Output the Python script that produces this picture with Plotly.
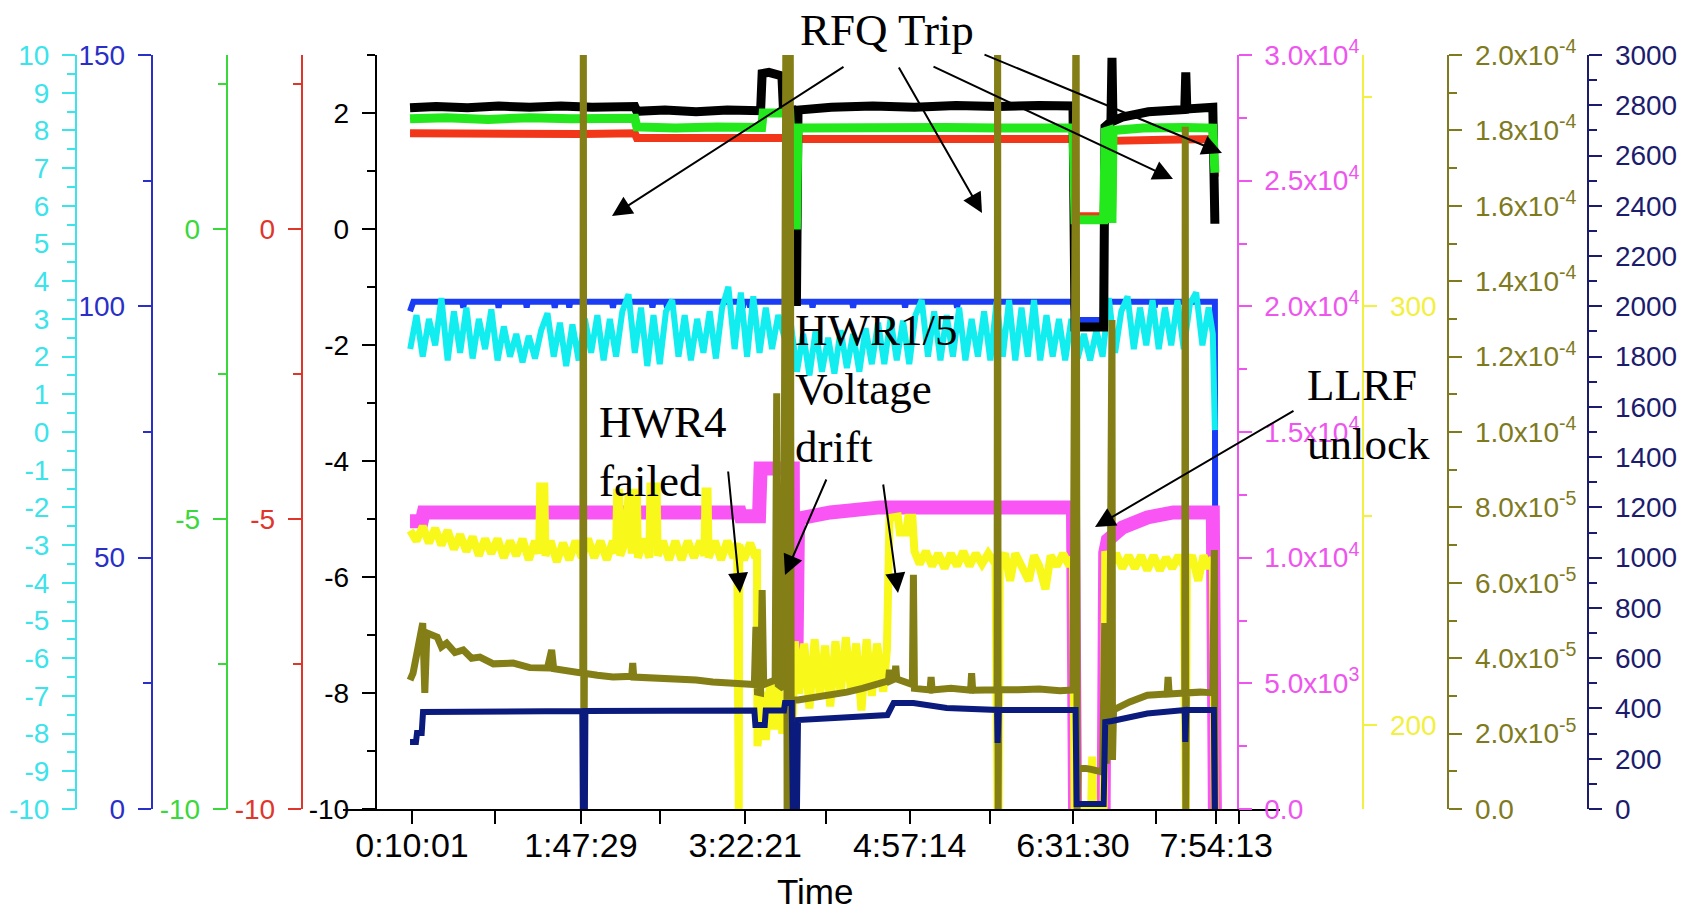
import plotly.graph_objects as go

# ---------------- data ----------------
# x values: elapsed clock time in hours
tick_hours = [0.16694, 1.79139, 3.37250, 4.95389, 6.52500, 7.90361]
tick_labels = ["0:10:01", "1:47:29", "3:22:21", "4:57:14", "6:31:30", "7:54:13"]
minor_hours = [0.965, 2.552, 4.149, 5.727, 7.324, 8.122]
x_title = "Time"

black_t = [0.148, 0.40, 0.70, 1.00, 1.30, 1.60, 1.90, 2.20, 2.31, 2.33, 2.60, 2.90, 3.20, 3.52, 3.535,
           3.60, 3.70, 3.725, 3.74, 3.82, 3.845, 3.865, 3.88, 4.20, 4.60, 5.00, 5.40, 5.80, 6.20, 6.525,
           6.545, 6.82, 6.833, 6.89, 6.90, 6.91, 7.00, 7.25, 7.60, 7.61, 7.62, 7.87, 7.89]
black_v = [2.09, 2.11, 2.09, 2.12, 2.10, 2.12, 2.10, 2.12, 2.11, 2.03, 2.05, 2.02, 2.05, 2.04, 2.68,
           2.70, 2.66, 2.64, 2.05, 2.05, -1.25, -1.25, 2.05, 2.10, 2.12, 2.10, 2.13, 2.11, 2.13, 2.12,
           -1.69, -1.69, 1.76, 1.85, 2.95, 1.86, 1.93, 2.02, 2.06, 2.70, 2.07, 2.10, 0.09]

green_t = [0.148, 0.50, 0.90, 1.30, 1.70, 2.10, 2.31, 2.33, 2.70, 3.10, 3.53, 3.545, 3.80, 3.845, 3.865,
           3.88, 4.30, 4.80, 5.30, 5.80, 6.20, 6.525, 6.545, 6.82, 6.835, 6.87, 6.88, 6.90, 6.91, 7.20,
           7.60, 7.87, 7.89]
green_v = [1.90, 1.92, 1.89, 1.92, 1.90, 1.92, 1.91, 1.76, 1.74, 1.76, 1.75, 2.00, 2.00, 0.07, 0.07,
           1.74, 1.75, 1.73, 1.75, 1.74, 1.75, 1.74, 0.16, 0.16, 1.68, 1.70, 0.18, 0.18, 1.70, 1.74,
           1.75, 1.74, 0.97]

red_t = [0.148, 0.60, 1.20, 1.80, 2.31, 2.33, 3.00, 3.82, 3.845, 3.865, 3.88, 4.60, 5.60, 6.525, 6.545,
         6.82, 6.835, 6.87, 6.88, 6.90, 6.91, 7.40, 7.87, 7.89]
red_v = [1.65, 1.64, 1.66, 1.64, 1.65, 1.57, 1.57, 1.57, 0.03, 0.03, 1.55, 1.54, 1.55, 1.55, 0.22,
         0.22, 1.52, 1.52, 0.20, 0.20, 1.52, 1.54, 1.55, 0.90]

blue_t = [0.148, 0.18, 0.65, 0.66, 0.67, 0.99, 1.00, 1.01, 1.26, 1.27, 1.28, 1.53, 1.54, 1.55, 1.67,
          1.68, 1.69, 2.09, 2.10, 2.11, 2.47, 2.48, 2.49, 2.61, 2.62, 2.63, 3.34, 3.35, 3.36, 3.41,
          3.42, 3.43, 3.90, 4.01, 4.02, 4.03, 4.40, 4.41, 4.42, 4.90, 4.91, 4.92, 5.40, 5.41, 5.42,
          6.525, 6.545, 6.82, 6.835, 7.30, 7.31, 7.32, 7.89, 7.895]
blue_v = [99.0, 100.9, 100.9, 99.7, 100.9, 100.9, 99.7, 100.9, 100.9, 99.8, 100.9, 100.9, 99.7, 100.9, 100.9,
          99.8, 100.9, 100.9, 99.7, 100.9, 100.9, 99.8, 100.9, 100.9, 99.7, 100.9, 100.9, 99.7, 100.9, 100.9,
          99.8, 100.9, 100.9, 100.9, 99.8, 100.9, 100.9, 99.7, 100.9, 100.9, 99.8, 100.9, 100.9, 99.7, 100.9,
          100.9, 97.3, 97.3, 100.9, 100.9, 99.8, 100.9, 100.9, 0.0]

cyan_t = [0.15, 0.21, 0.27, 0.33, 0.39, 0.45, 0.51, 0.57, 0.63, 0.69, 0.75, 0.81, 0.87, 0.93, 0.99,
          1.05, 1.11, 1.17, 1.23, 1.29, 1.35, 1.41, 1.47, 1.53, 1.59, 1.65, 1.71, 1.77, 1.83, 1.89,
          1.95, 2.01, 2.07, 2.13, 2.19, 2.25, 2.31, 2.37, 2.43, 2.49, 2.55, 2.61, 2.67, 2.73, 2.79,
          2.85, 2.91, 2.97, 3.03, 3.09, 3.15, 3.21, 3.27, 3.33, 3.39, 3.45, 3.51, 3.57, 3.63, 3.69,
          3.75, 3.81, 3.87, 3.93, 3.99, 4.05, 4.11, 4.17, 4.23, 4.29, 4.35, 4.41, 4.47, 4.53, 4.59,
          4.65, 4.71, 4.77, 4.83, 4.89, 4.95, 5.01, 5.07, 5.13, 5.19, 5.25, 5.31, 5.37, 5.43, 5.49,
          5.55, 5.61, 5.67, 5.73, 5.79, 5.85, 5.91, 5.97, 6.03, 6.09, 6.15, 6.21, 6.27, 6.33, 6.39,
          6.45, 6.51, 6.57, 6.63, 6.69, 6.75, 6.81, 6.87, 6.93, 6.99, 7.05, 7.11, 7.17, 7.23, 7.29,
          7.35, 7.41, 7.47, 7.53, 7.59, 7.65, 7.71, 7.77, 7.83, 7.87, 7.89]
cyan_v = [2.2, 3.1, 2.0, 3.0, 2.3, 3.55, 1.9, 3.2, 2.1, 3.3,
          1.95, 3.0, 2.2, 3.25, 1.9, 2.8, 2.0, 2.6, 1.85, 2.55,
          1.95, 2.7, 3.15, 2.0, 2.9, 1.75, 2.85, 1.9, 3.0, 2.1,
          3.1, 1.9, 3.0, 2.0, 3.2, 3.65, 2.1, 3.3, 1.75, 3.1,
          1.8, 3.2, 3.5, 2.0, 3.1, 1.9, 3.0, 2.1, 3.2, 1.95,
          3.3, 3.85, 2.2, 3.7, 2.0, 3.6, 2.1, 3.3, 2.2, 3.1,
          2.5, 2.9, 1.6, 2.6, 1.5, 2.7, 1.6, 2.5, 1.55, 2.7,
          1.7, 2.6, 1.6, 2.75, 1.8, 2.9, 1.8, 3.0, 1.9, 2.95,
          1.8, 3.1, 3.5, 2.0, 3.2, 1.9, 3.1, 2.0, 3.3, 1.9,
          3.0, 2.0, 3.2, 1.9, 3.45, 2.0, 3.5, 1.9, 3.3, 2.0,
          3.5, 1.9, 3.1, 2.0, 3.0, 1.9, 3.0, 1.95, 2.6, 1.9,
          2.7, 2.0, 3.55, 2.1, 3.2, 3.6, 2.2, 3.3, 2.3, 3.5,
          2.2, 3.3, 2.3, 3.5, 2.2, 3.4, 3.7, 2.3, 3.3, 2.6,
          0.05]

magenta_t = [0.148, 0.26, 0.28, 0.8, 1.4, 2.0, 2.6, 3.0, 3.32, 3.33, 3.505, 3.52, 3.78, 3.83, 3.835,
             3.865, 3.88, 4.19, 4.67, 5.3, 6.0, 6.525, 6.545, 6.82, 6.835, 6.86, 7.0, 7.24, 7.49, 7.87,
             7.89]
magenta_v = [11450, 11450, 11800, 11780, 11820, 11790, 11800, 11780, 11800, 11650, 11650, 13550, 13550, 13550, 6050,
             6050, 11550, 11800, 12000, 12000, 11980, 12000, 0, 0, 10200, 10700, 11200, 11600, 11800, 11800,
             0]

yellow_t = [0.15, 0.21, 0.27, 0.33, 0.39, 0.45, 0.51, 0.57, 0.63, 0.69,
            0.75, 0.81, 0.87, 0.93, 0.99, 1.05, 1.11, 1.17, 1.23, 1.29,
            1.35, 1.39, 1.40, 1.44, 1.45, 1.50, 1.56, 1.62, 1.68, 1.74,
            1.80, 1.86, 1.92, 1.98, 2.04, 2.10, 2.13, 2.14, 2.16, 2.17,
            2.22, 2.25, 2.28, 2.29, 2.33, 2.34, 2.40, 2.45, 2.46, 2.52,
            2.53, 2.58, 2.64, 2.70, 2.76, 2.82, 2.88, 2.94, 2.98, 2.99,
            3.01, 3.02, 3.08, 3.14, 3.20, 3.26, 3.295, 3.30, 3.31, 3.315,
            3.36, 3.42, 3.47, 3.485, 3.49, 3.53, 3.57, 3.61, 3.65, 3.69,
            3.73, 3.77, 3.81, 3.83, 3.85, 3.89, 3.94, 3.99, 4.04, 4.09,
            4.14, 4.19, 4.24, 4.29, 4.34, 4.39, 4.44, 4.49, 4.54, 4.59,
            4.64, 4.70, 4.735, 4.76, 4.84, 4.86, 4.92, 4.94, 4.98, 5.00,
            5.05, 5.11, 5.17, 5.23, 5.29, 5.35, 5.41, 5.47, 5.53, 5.59,
            5.65, 5.71, 5.78, 5.80, 5.81, 5.82, 5.87, 5.92, 5.97, 6.03,
            6.10, 6.15, 6.20, 6.26, 6.31, 6.37, 6.43, 6.49, 6.525, 6.54,
            6.70, 6.71, 6.72, 6.82, 6.835, 6.88, 6.94, 7.00, 7.06, 7.12,
            7.18, 7.24, 7.30, 7.36, 7.42, 7.48, 7.54, 7.59, 7.60, 7.61,
            7.62, 7.67, 7.73, 7.78, 7.83, 7.87, 7.89]
yellow_v = [246.5, 244.0, 247.5, 243.5, 247.0, 243.0, 246.5, 242.0, 245.5, 241.5,
            245.0, 240.5, 244.5, 241.0, 244.5, 240.0, 244.0, 240.5, 244.5, 239.5,
            244.0, 241.0, 257.0, 257.0, 240.5, 244.0, 239.0, 243.5, 239.5, 244.0,
            240.0, 244.5, 240.0, 244.0, 239.5, 244.0, 241.0, 255.5, 255.5, 240.5,
            244.0, 255.0, 241.0, 255.5, 255.5, 240.0, 244.5, 240.0, 257.0, 257.0,
            240.5, 244.0, 239.5, 244.0, 239.5, 244.0, 240.0, 244.0, 240.5, 255.8,
            255.8, 240.0, 244.0, 239.5, 244.0, 240.0, 243.5, 180.0, 180.0, 243.0,
            239.5, 243.5, 240.0, 242.0, 195.0, 208.0, 196.5, 210.0, 199.0, 211.0,
            198.0, 206.0, 196.0, 203.0, 220.0, 207.5, 219.5, 204.0, 220.5, 207.0,
            219.0, 204.5, 220.0, 207.5, 221.0, 208.0, 219.5, 203.5, 220.5, 207.0,
            219.5, 208.0, 218.0, 249.5, 249.8, 246.0, 246.0, 249.5, 249.5, 241.5,
            238.5, 241.5, 238.0, 241.0, 237.5, 241.0, 238.0, 241.5, 238.0, 241.0,
            238.5, 241.0, 238.5, 180.0, 180.0, 239.0, 241.0, 234.5, 241.0, 238.0,
            234.5, 240.5, 238.0, 232.5, 240.5, 238.0, 241.0, 238.0, 240.0, 180.0,
            180.0, 192.5, 180.0, 180.0, 241.5, 238.0, 241.0, 237.5, 240.5, 237.5,
            240.5, 237.0, 240.5, 237.0, 240.0, 237.5, 240.5, 238.0, 180.0, 180.0,
            238.5, 240.5, 234.5, 240.5, 237.5, 240.0, 180.0]

olive_t = [0.148, 0.177, 0.215, 0.27, 0.29, 0.31, 0.41, 0.45, 0.50, 0.58, 0.66, 0.74, 0.82, 0.95, 1.14,
           1.30, 1.47, 1.51, 1.53, 1.70, 1.78, 1.81, 1.815, 1.82, 1.825, 1.95, 2.10, 2.28, 2.29, 2.30,
           2.43, 2.60, 2.74, 2.90, 3.06, 3.20, 3.39, 3.46, 3.475, 3.49, 3.52, 3.535, 3.55, 3.60, 3.66,
           3.675, 3.69, 3.74, 3.765, 3.775, 3.785, 3.795, 3.805, 3.815, 3.825, 3.88, 4.02, 4.15, 4.35, 4.50,
           4.67, 4.75, 4.76, 4.77, 4.81, 4.82, 4.83, 4.98, 4.99, 5.00, 5.15, 5.16, 5.17, 5.35, 5.54,
           5.55, 5.56, 5.70, 5.795, 5.80, 5.805, 5.81, 6.00, 6.20, 6.40, 6.525, 6.555, 6.565, 6.575, 6.70,
           6.81, 6.83, 6.845, 6.86, 6.875, 6.90, 6.905, 6.915, 7.07, 7.24, 7.43, 7.44, 7.45, 7.55, 7.60,
           7.605, 7.61, 7.615, 7.75, 7.87, 7.885, 7.89]
olive_v = [3.42e-5, 3.60e-5, 4.14e-5, 4.93e-5, 3.08e-5, 4.67e-5, 4.56e-5, 4.30e-5, 4.40e-5, 4.15e-5,
           4.22e-5, 4.00e-5, 4.03e-5, 3.85e-5, 3.87e-5, 3.75e-5, 3.74e-5, 4.22e-5, 3.72e-5, 3.65e-5,
           3.61e-5, 3.60e-5, 2.2e-4, 0.0, 3.60e-5, 3.55e-5, 3.50e-5, 3.52e-5, 3.87e-5, 3.50e-5,
           3.48e-5, 3.50e-5, 3.47e-5, 3.42e-5, 3.37e-5, 3.36e-5, 3.34e-5, 3.30e-5, 4.83e-5, 3.10e-5,
           3.08e-5, 5.81e-5, 3.30e-5, 3.35e-5, 3.42e-5, 1.103e-4, 3.30e-5, 3.20e-5, 2.2e-4, 0.0,
           2.2e-4, 0.0, 2.2e-4, 0.0, 2.89e-5, 2.89e-5, 2.94e-5, 3.00e-5, 3.10e-5, 3.20e-5,
           3.34e-5, 3.40e-5, 3.69e-5, 3.40e-5, 3.45e-5, 3.80e-5, 3.45e-5, 3.30e-5, 6.21e-5, 3.20e-5,
           3.16e-5, 3.50e-5, 3.16e-5, 3.20e-5, 3.15e-5, 3.60e-5, 3.15e-5, 3.18e-5, 3.16e-5, 2.2e-4,
           0.0, 3.16e-5, 3.16e-5, 3.18e-5, 3.14e-5, 3.16e-5, 2.2e-4, 0.0, 1.11e-5, 1.05e-5,
           0.98e-5, 4.93e-5, 1.2e-5, 4.5e-5, 2.0e-5, 1.297e-4, 1.3e-5, 2.63e-5, 2.84e-5, 3.02e-5,
           3.05e-5, 3.50e-5, 3.05e-5, 3.08e-5, 3.08e-5, 1.81e-4, 0.0, 3.08e-5, 3.10e-5, 3.08e-5,
           6.87e-5, 0.0]

navy_t = [0.148, 0.205, 0.215, 0.26, 0.273, 1.00, 1.805, 1.81, 1.83, 1.835, 2.50, 3.46, 3.47, 3.56, 3.57,
          3.745, 3.755, 3.82, 3.83, 3.87, 3.88, 4.20, 4.67, 4.74, 4.80, 4.99, 5.31, 5.795, 5.80, 5.81,
          6.20, 6.55, 6.56, 6.82, 6.835, 6.90, 7.24, 7.55, 7.60, 7.605, 7.615, 7.88, 7.89]
navy_v = [267, 267, 302, 302, 386, 390, 390, 0, 0, 390, 392, 392, 334, 334, 392,
          392, 422, 422, 0, 0, 354, 362, 374, 374, 422, 422, 402, 394, 263, 394,
          394, 394, 20, 20, 346, 350, 380, 394, 394, 267, 394, 394, 0]

# tick labels (plain hyphen minus signs, as in the original)
cyan_ticks = [-10, -9, -8, -7, -6, -5, -4, -3, -2, -1, 0, 1, 2, 3, 4, 5, 6, 7, 8, 9, 10]
cyan_text = ["-10", "-9", "-8", "-7", "-6", "-5", "-4", "-3", "-2", "-1", "0",
             "1", "2", "3", "4", "5", "6", "7", "8", "9", "10"]
black_ticks = [-10, -8, -6, -4, -2, 0, 2]
black_text = ["-10", "-8", "-6", "-4", "-2", "0", "2"]
gr_ticks = [-10, -5, 0]
gr_text = ["-10", "-5", "0"]
magenta_ticks = [0, 5000, 10000, 15000, 20000, 25000, 30000]
magenta_text = ["0.0", "5.0x10<sup>3</sup>", "1.0x10<sup>4</sup>", "1.5x10<sup>4</sup>",
                "2.0x10<sup>4</sup>", "2.5x10<sup>4</sup>", "3.0x10<sup>4</sup>"]
olive_ticks = [0, 2e-5, 4e-5, 6e-5, 8e-5, 1e-4, 1.2e-4, 1.4e-4, 1.6e-4, 1.8e-4, 2e-4]
olive_text = ["0.0", "2.0x10<sup>-5</sup>", "4.0x10<sup>-5</sup>", "6.0x10<sup>-5</sup>",
              "8.0x10<sup>-5</sup>", "1.0x10<sup>-4</sup>", "1.2x10<sup>-4</sup>", "1.4x10<sup>-4</sup>",
              "1.6x10<sup>-4</sup>", "1.8x10<sup>-4</sup>", "2.0x10<sup>-4</sup>"]

# ---------------- layout helpers ----------------
W, H = 1684, 913
PT, PB = 55, 809
XL, XR = 343, 1280


def fx(x):
    return x / W


def fy(y):
    return 1 - y / H


FONT = "Liberation Sans, Arial, sans-serif"
SERIF = "Liberation Serif, Times New Roman, serif"


def yaxis(color, lab, rng, xpos, side, minor_dtick, main=False, **kw):
    d = dict(range=rng, anchor="free", position=fx(xpos), side=side,
             showline=True, linecolor=color, linewidth=2,
             ticks="outside", ticklen=13, tickwidth=2, tickcolor=color,
             tickfont=dict(family=FONT, size=28, color=lab),
             ticklabelstandoff=7, showgrid=False, zeroline=False,
             automargin=False, fixedrange=True,
             minor=dict(ticks="outside", ticklen=8, tickwidth=2, tickcolor=color,
                        dtick=minor_dtick, tick0=0, showgrid=False))
    d.update(kw)
    if main:
        d["domain"] = [fy(PB), fy(PT)]
    else:
        d["overlaying"] = "y"
    return d


fig = go.Figure()


def add(t, v, color, width, axis):
    fig.add_trace(go.Scatter(x=t, y=v, mode="lines", line=dict(color=color, width=width),
                             yaxis=axis, hoverinfo="skip", showlegend=False))


add(blue_t, blue_v, "#1A3CF5", 6, "y")
add(cyan_t, cyan_v, "#12EEF0", 6, "y2")
add(red_t, red_v, "#F2361A", 8, "y3")
add(black_t, black_v, "#000000", 9, "y4")
add(green_t, green_v, "#22E81C", 9, "y5")
add(magenta_t, magenta_v, "#F955F5", 14, "y6")
add(yellow_t, yellow_v, "#F8F81A", 8, "y7")
add(olive_t, olive_v, "#847E17", 7, "y8")
add(navy_t, navy_v, "#0B1B7D", 6, "y9")

layout = dict(
    width=W, height=H, autosize=False, template="none",
    margin=dict(l=0, r=0, t=0, b=0, pad=0),
    paper_bgcolor="white", plot_bgcolor="white", showlegend=False,
    font=dict(family=FONT),
    xaxis=dict(domain=[fx(XL), fx(XR)], range=[-0.4968, 8.5163], anchor="y",
               showline=True, linecolor="black", linewidth=2,
               ticks="outside", ticklen=13, tickwidth=2, tickcolor="black",
               tickmode="array", tickvals=tick_hours, ticktext=tick_labels,
               tickfont=dict(family=FONT, size=34, color="black"),
               ticklabelstandoff=-8,
               minor=dict(tickmode="array", tickvals=minor_hours, ticks="outside",
                          ticklen=13, tickwidth=2, tickcolor="black", showgrid=False),
               showgrid=False, zeroline=False, automargin=False, fixedrange=True),
    yaxis=yaxis("#2A2FC8", "#2A2FC8", [0, 150], 151.7, "left", 25, main=True, dtick=50, tick0=0),
    yaxis2=yaxis("#3CE3EA", "#3CE3EA", [-10, 10], 76, "left", 0.5,
                 tickmode="array", tickvals=cyan_ticks, ticktext=cyan_text),
    yaxis3=yaxis("#E0352B", "#E0352B", [-10, 3], 301.7, "left", 2.5,
                 tickmode="array", tickvals=gr_ticks, ticktext=gr_text),
    yaxis4=yaxis("#000000", "#000000", [-10, 3], 375.7, "left", 1,
                 tickmode="array", tickvals=black_ticks, ticktext=black_text),
    yaxis5=yaxis("#3AD83A", "#3AD83A", [-10, 3], 226.7, "left", 2.5,
                 tickmode="array", tickvals=gr_ticks, ticktext=gr_text),
    yaxis6=yaxis("#EE55EE", "#EE55EE", [0, 30000], 1237.7, "right", 2500,
                 tickmode="array", tickvals=magenta_ticks, ticktext=magenta_text),
    yaxis7=yaxis("#F2F040", "#F2F040", [180, 360], 1363.3, "right", 50, dtick=100, tick0=0),
    yaxis8=yaxis("#7F7A1E", "#7F7A1E", [0, 2e-4], 1448.3, "right", 1e-5,
                 tickmode="array", tickvals=olive_ticks, ticktext=olive_text),
    yaxis9=yaxis("#1C1C6E", "#1C1C6E", [0, 3000], 1588.3, "right", 100, dtick=200, tick0=0),
)
fig.update_layout(**layout)

# x-axis title (kept inside the page)
fig.add_annotation(text=x_title, x=fx(815), y=0, xref="paper", yref="paper",
                   xanchor="center", yanchor="bottom", showarrow=False,
                   font=dict(family=FONT, size=35, color="black"))

# ---------------- annotations ----------------
tfont = dict(family=SERIF, size=45, color="black")
texts = [
    ("RFQ Trip", 887, 29.5, "center"),
    ("HWR1/5<br>Voltage<br>drift", 793, 388.5, "left"),
    ("HWR4<br>failed", 597, 452, "left"),
    ("LLRF<br>unlock", 1305, 414, "left"),
]
for txt, x, y, anc in texts:
    fig.add_annotation(text=txt, x=fx(x), y=fy(y), xref="paper", yref="paper",
                       xanchor=anc, yanchor="middle", align="left", showarrow=False, font=tfont)

# arrows: (tail_x, tail_y, tip_x, tip_y) in page pixels
arrows = [
    (845, 66, 612, 216),
    (898, 66, 982, 213),
    (932, 66, 1173, 179),
    (983, 54, 1222, 153),
    (728, 470, 740, 593),
    (827, 478, 785, 575),
    (883, 483, 898, 593),
    (1295, 410, 1095, 527),
]
for tx, ty, hx, hy in arrows:
    fig.add_annotation(text="", x=fx(hx), y=fy(hy), xref="paper", yref="paper",
                       ax=tx - hx, ay=ty - hy, axref="pixel", ayref="pixel",
                       showarrow=True, arrowhead=2, arrowsize=2, arrowwidth=2,
                       arrowcolor="black", standoff=0)

fig.write_html("out.html")
